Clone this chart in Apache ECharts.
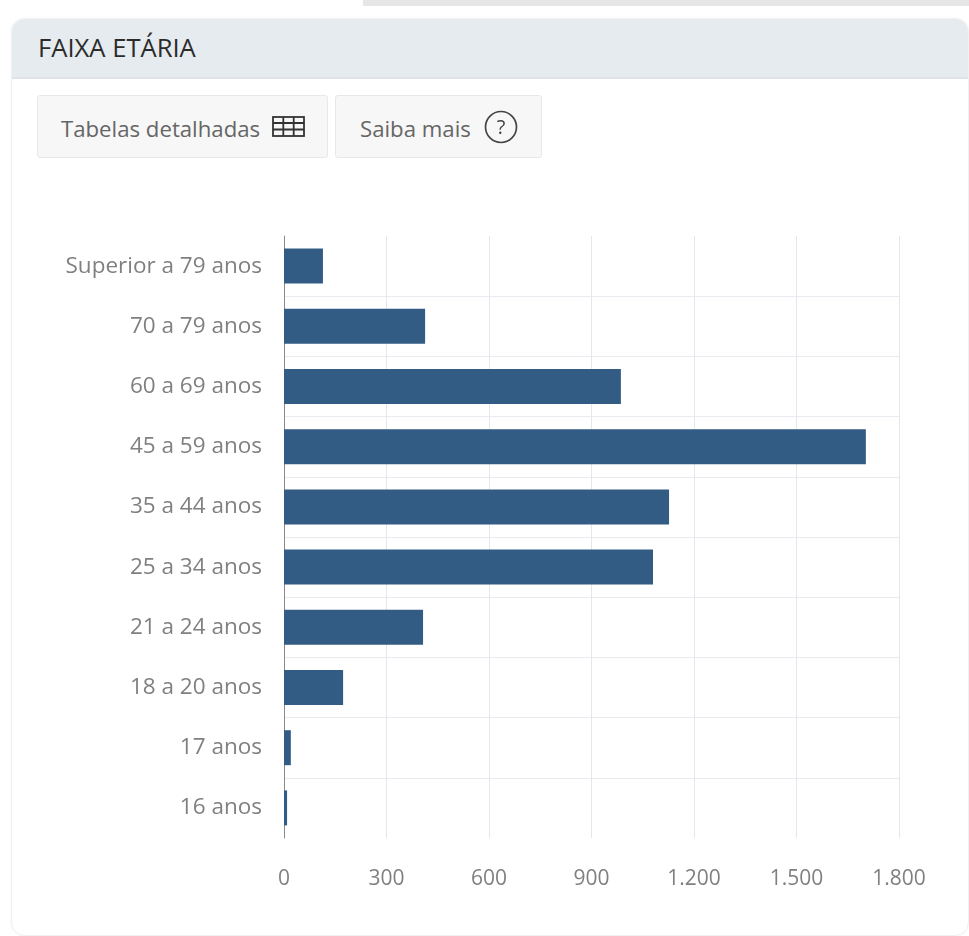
<!DOCTYPE html>
<html><head><meta charset="utf-8">
<style>
html,body{margin:0;padding:0;width:969px;height:936px;background:#fff;overflow:hidden;font-family:"Open Sans",sans-serif}
#strip{position:absolute;left:363px;top:0;width:606px;height:6px;background:#e6e6e6}
#card{position:absolute;left:11px;top:18px;width:958px;height:918px;border:1px solid #f0f1f3;border-radius:14px;box-sizing:border-box;box-shadow:0 0 3px rgba(0,0,0,.04);overflow:hidden;background:#fff}
#head{position:absolute;left:0;top:0;right:0;height:60px;background:#e6ebef;border-bottom:2px solid #dde3e8;box-sizing:border-box}
#title{position:absolute;left:26px;top:12px;font-size:25.6px;line-height:34px;color:#2b2b2b}
.btn{position:absolute;top:95px;height:63px;box-sizing:border-box;background:#f7f7f7;border:1px solid #e8e8e8;border-radius:3px;font-size:22.2px;color:#666;line-height:65px;white-space:nowrap}
#b1{left:37px;width:291px;padding-left:23px}
#b2{left:335px;width:207px;padding-left:24px}
.btn svg{position:absolute}
#chart{position:absolute;left:0;top:0;width:969px;height:936px}
</style></head><body>
<div id="strip"></div>
<div id="card"><div id="head"><div id="title">FAIXA ETÁRIA</div></div></div>
<div id="chart"></div>
<div class="btn" id="b1">Tabelas detalhadas
<svg style="left:234px;top:20px" width="33" height="21" viewBox="0 0 33 21" fill="none" stroke="#333" stroke-width="1.8"><rect x="1" y="1" width="31" height="19"/><path d="M1 7H32M1 13.5H32M11.3 1V20M21.7 1V20"/></svg></div>
<div class="btn" id="b2">Saiba mais
<svg style="left:148px;top:14px" width="34" height="34" viewBox="0 0 34 34" fill="none" stroke="#444" stroke-width="1.7"><circle cx="17" cy="17" r="15.5"/><text x="17" y="24" text-anchor="middle" font-size="20" fill="#444" stroke="none" font-family="Open Sans">?</text></svg></div>
<script src="https://cdn.jsdelivr.net/npm/echarts@6/dist/echarts.min.js"></script>
<script>
const categories = ["16 anos","17 anos","18 a 20 anos","21 a 24 anos","25 a 34 anos","35 a 44 anos","45 a 59 anos","60 a 69 anos","70 a 79 anos","Superior a 79 anos"];
const values = [9,20,173,407,1080,1127,1703,986,413,114];
const xTicks = [0,300,600,900,1200,1500,1800];
const chart = echarts.init(document.getElementById('chart'),null,{renderer:'canvas'});
chart.setOption({
  animation:false,
  textStyle:{fontFamily:'"Open Sans",sans-serif'},
  grid:{left:284,top:236,width:615,height:602,containLabel:false},
  xAxis:{type:'value',min:xTicks[0],max:xTicks[xTicks.length-1],interval:300,
    axisLine:{show:false},axisTick:{show:false},
    axisLabel:{color:'#808080',fontSize:21,margin:31,hideOverlap:false,showMinLabel:true,showMaxLabel:true,
      formatter:v=>String(v).replace(/\B(?=(\d{3})+$)/g,'.')},
    splitLine:{show:true,lineStyle:{color:'#e3e7ec',width:1}}},
  yAxis:{type:'category',data:categories,
    axisLine:{show:true,onZero:false,lineStyle:{color:'#8a8a8a',width:1}},
    axisTick:{show:false},
    axisLabel:{color:'#808080',fontSize:22.5,margin:22,interval:0,padding:[2,0,0,0]},
    splitLine:{show:true,interval:0,showMinLine:false,showMaxLine:false,lineStyle:{color:'#e8ecf1',width:1}}},
  series:[{type:'bar',data:values,barWidth:35,itemStyle:{color:'#335c85'}}]
});
</script>
</body></html>
